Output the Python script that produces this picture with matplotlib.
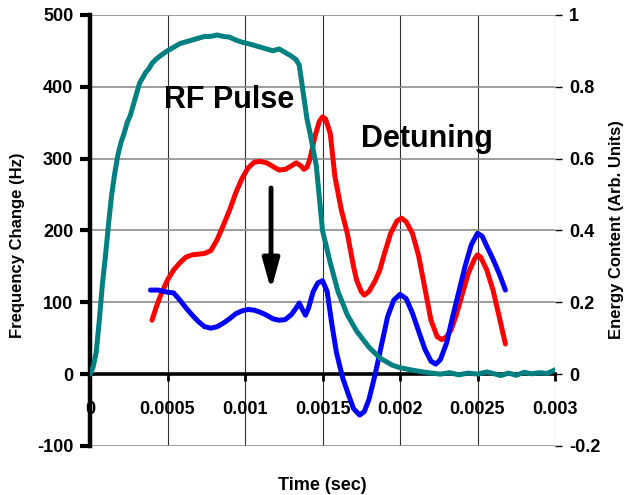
#!/usr/bin/env python3
"""Frequency change (Hz) and stored energy vs time for an RF pulse with detuning."""
import numpy as np
import matplotlib
matplotlib.use("Agg")
import matplotlib.pyplot as plt

plt.rcParams["font.family"] = ["Liberation Sans", "DejaVu Sans"]

# energy content (right axis), teal
T_ENERGY = [0, 0.00002, 0.00004, 0.00006, 0.00008, 0.0001, 0.00012, 0.00014, 0.00016,
            0.00018, 0.0002, 0.00022, 0.00024, 0.00026, 0.00028, 0.0003, 0.00032, 0.00034,
            0.00036, 0.00038, 0.0004, 0.00043, 0.00046, 0.0005, 0.00054, 0.00058, 0.00062,
            0.00066, 0.0007, 0.00074, 0.00078, 0.00082, 0.00086, 0.0009, 0.00094, 0.00098,
            0.00102, 0.00106, 0.0011, 0.00114, 0.00118, 0.00122, 0.00126, 0.0013, 0.00133,
            0.00135, 0.00137, 0.0014, 0.00142, 0.00146, 0.0015, 0.00155, 0.0016, 0.00166,
            0.00172, 0.0018, 0.00187, 0.00195, 0.002, 0.00208, 0.00215, 0.0022, 0.00226,
            0.00232, 0.00238, 0.00244, 0.0025, 0.00256, 0.0026, 0.00265, 0.0027, 0.00275,
            0.0028, 0.00285, 0.0029, 0.00295, 0.003]
ENERGY = [0, 0.02, 0.06, 0.15, 0.25, 0.33, 0.42, 0.5, 0.56,
          0.61, 0.645, 0.67, 0.7, 0.72, 0.75, 0.78, 0.81, 0.825,
          0.84, 0.85, 0.865, 0.878, 0.888, 0.9, 0.91, 0.92, 0.925,
          0.93, 0.935, 0.94, 0.94, 0.944, 0.94, 0.938, 0.93, 0.924,
          0.92, 0.915, 0.91, 0.905, 0.9, 0.905, 0.895, 0.885, 0.875,
          0.86, 0.8, 0.71, 0.67, 0.58, 0.4, 0.31, 0.23, 0.165,
          0.12, 0.075, 0.045, 0.025, 0.018, 0.011, 0.006, 0.003, 0.0,
          0.004, -0.002, 0.003, 0.0, 0.006, 0.002, -0.004, 0.003, -0.003,
          0.005, 0.001, 0.004, 0.002, 0.012]

# frequency change, red
T_RED = [0.0004, 0.00043, 0.00046, 0.0005, 0.00054, 0.00058, 0.00062, 0.00066, 0.0007,
         0.00074, 0.00078, 0.00082, 0.00086, 0.0009, 0.00094, 0.00098, 0.00102, 0.00106,
         0.0011, 0.00114, 0.00118, 0.00122, 0.00126, 0.0013, 0.00133, 0.00136, 0.00138,
         0.0014, 0.00142, 0.00145, 0.00148, 0.0015, 0.00152, 0.00155, 0.00158, 0.00162,
         0.00166, 0.0017, 0.00172, 0.00175, 0.00177, 0.0018, 0.00184, 0.00187, 0.0019,
         0.00194, 0.00198, 0.00201, 0.00204, 0.00208, 0.00212, 0.00216, 0.0022, 0.00224,
         0.00227, 0.0023, 0.00233, 0.00236, 0.0024, 0.00244, 0.00248, 0.0025, 0.00252,
         0.00256, 0.0026, 0.00264, 0.00268]
RED = [75, 95, 112, 131, 145, 155, 163, 166, 167,
       168, 172, 187, 207, 228, 252, 272, 287, 295,
       296, 294, 289, 284, 285, 290, 294, 290, 285,
       288, 300, 330, 352, 358, 355, 335, 275, 230,
       196, 150, 131, 115, 110, 115, 130, 145, 168,
       196, 213, 217, 212, 196, 165, 120, 75, 52,
       48, 52, 62, 80, 110, 140, 160, 166, 163,
       145, 117, 80, 42]

# frequency change, blue
T_BLUE = [0.00039, 0.00044, 0.0005, 0.00054, 0.00058, 0.00062, 0.00066, 0.0007, 0.00074,
          0.00078, 0.00082, 0.00086, 0.0009, 0.00094, 0.00098, 0.00102, 0.00106, 0.0011,
          0.00114, 0.00118, 0.00122, 0.00126, 0.0013, 0.00133, 0.00135, 0.00137, 0.00139,
          0.00141, 0.00144, 0.00147, 0.0015, 0.00153, 0.00156, 0.00159, 0.00163, 0.00167,
          0.0017, 0.00174, 0.00177, 0.0018, 0.00184, 0.00188, 0.00192, 0.00196, 0.002,
          0.00204, 0.00208, 0.00212, 0.00216, 0.0022, 0.00223, 0.00226, 0.0023, 0.00234,
          0.00238, 0.00242, 0.00246, 0.0025, 0.00253, 0.00256, 0.0026, 0.00264, 0.00268]
BLUE = [117, 117, 114, 113, 103, 92, 82, 73, 66,
        64, 66, 71, 77, 84, 88, 90, 89, 86,
        82, 77, 75, 76, 83, 92, 99, 90, 82,
        92, 115, 127, 130, 115, 70, 30, -5, -30,
        -48, -57, -52, -35, 0, 40, 80, 103, 111,
        105, 85, 60, 35, 18, 14, 20, 43, 80,
        115, 150, 180, 196, 192, 178, 160, 140, 117]

X_TICKS = [0, 0.0005, 0.001, 0.0015, 0.002, 0.0025, 0.003]
X_LABELS = ["0", "0.0005", "0.001", "0.0015", "0.002", "0.0025", "0.003"]
HZ_TICKS = [-100, 0, 100, 200, 300, 400, 500]
E_TICKS = [-0.2, 0, 0.2, 0.4, 0.6, 0.8, 1.0]
E_LABELS = ["-0.2", "0", "0.2", "0.4", "0.6", "0.8", "1"]

TEAL, RED_C, BLUE_C = "#008080", "#ff0000", "#0000ff"
BOLD = dict(fontweight="bold")


def main():
    fig = plt.figure(figsize=(6.25, 4.95), dpi=100)
    ax = fig.add_axes([0.144, 0.099, 0.744, 0.871])
    ax2 = ax.twinx()

    ax.set_xlim(0, 0.003)
    ax.set_ylim(-100, 500)
    ax2.set_ylim(-0.2, 1.0)

    # grid: gray horizontals, dark thin verticals
    ax.set_axisbelow(True)
    ax.yaxis.grid(True, color="#8c8c8c", lw=1.2)
    ax.xaxis.grid(True, color="#303030", lw=0.8)

    for s in ("top", "right"):
        ax.spines[s].set_visible(False)
    for s in ax2.spines.values():
        s.set_visible(False)
    ax.spines["left"].set_linewidth(3.2)
    ax.spines["bottom"].set_position(("data", 0))
    ax.spines["bottom"].set_linewidth(2.6)

    ax.set_xticks(X_TICKS, X_LABELS)
    ax.set_yticks(HZ_TICKS, [str(v) for v in HZ_TICKS])
    ax2.set_yticks(E_TICKS, E_LABELS)
    ax.tick_params(axis="x", direction="out", length=5, width=2, pad=14, labelsize=13)
    ax.tick_params(axis="y", direction="out", length=7, width=3, pad=5, labelsize=13)
    ax2.tick_params(axis="y", direction="out", length=5, width=1, pad=5, labelsize=13)
    for lab in ax.get_xticklabels() + ax.get_yticklabels() + ax2.get_yticklabels():
        lab.set_fontweight("bold")

    ax.plot(T_RED, RED, color=RED_C, lw=3.6, solid_capstyle="round", zorder=3)
    ax.plot(T_BLUE, BLUE, color=BLUE_C, lw=3.6, solid_capstyle="round", zorder=3)
    ax2.plot(T_ENERGY, ENERGY, color=TEAL, lw=3.6, solid_capstyle="round", zorder=3)

    ax.text(0.000897, 370, "RF Pulse", fontsize=22, ha="center", va="baseline", **BOLD)
    ax.text(0.002171, 316, "Detuning", fontsize=22, ha="center", va="baseline", **BOLD)
    ax.annotate("", xy=(0.001168, 117), xytext=(0.001168, 259),
                arrowprops=dict(arrowstyle="-|>,head_length=1.8,head_width=0.5",
                                lw=3.5, color="black", shrinkA=0, shrinkB=0))

    fig.text(18 / 625, 1 - 245 / 495, "Frequency Change (Hz)", rotation=90,
             ha="center", va="center", fontsize=12, **BOLD)
    fig.text(617 / 625, 1 - 230 / 495, "Energy Content (Arb. Units)", rotation=90,
             ha="center", va="center", fontsize=12, **BOLD)
    fig.text(322 / 625, 1 - 485 / 495, "Time (sec)", ha="center", va="center",
             fontsize=13, **BOLD)

    fig.savefig("out.png", dpi=100)


if __name__ == "__main__":
    main()
